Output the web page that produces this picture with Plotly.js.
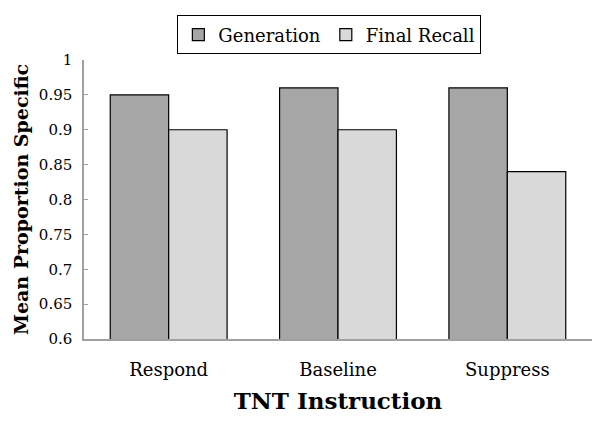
<!DOCTYPE html>
<html>
<head>
<meta charset="utf-8">
<script src="https://cdn.plot.ly/plotly-3.0.1.min.js"></script>
<style>
  body { margin: 0; background: #fff; }
  #graph { width: 600px; height: 423px; }
</style>
</head>
<body>
<div id="graph"></div>
<script>
// valores
var categorias = ["Respond", "Baseline", "Suppress"];
var generation = [0.95, 0.96, 0.96];
var finalRecall = [0.90, 0.90, 0.84];
var yTicks = [0.6, 0.65, 0.7, 0.75, 0.8, 0.85, 0.9, 0.95, 1];
var yTickText = ["0.6", "0.65", "0.7", "0.75", "0.8", "0.85", "0.9", "0.95", "1"];

var fonte = "DejaVu Serif";

var trace1 = {
    x: categorias,
    y: generation,
    name: "Generation",
    type: "bar",
    marker: { color: "#a6a6a6", line: { color: "#000", width: 1.2 } }
};

var trace2 = {
    x: categorias,
    y: finalRecall,
    name: "Final Recall",
    type: "bar",
    marker: { color: "#d9d9d9", line: { color: "#000", width: 1.2 } }
};

var layout = {
    width: 600,
    height: 423,
    margin: { l: 84, r: 8, t: 60, b: 84 },
    paper_bgcolor: "#fff",
    plot_bgcolor: "#fff",
    font: { family: fonte, color: "#000", size: 15 },
    barmode: "group",
    bargap: 0.31,
    bargroupgap: 0,
    showlegend: true,
    legend: {
        orientation: "h",
        x: 0.483,
        xanchor: "center",
        y: 1.16,
        yanchor: "top",
        bordercolor: "#000",
        borderwidth: 1,
        font: { size: 18, family: fonte },
        itemwidth: 30,
        tracegroupgap: 0
    },
    xaxis: {
        title: { text: "<b>TNT Instruction</b>", font: { size: 23, family: fonte }, standoff: 14 },
        tickfont: { size: 18, family: fonte },
        ticklabelstandoff: 14,
        showline: true,
        linecolor: "#a0a0a0",
        linewidth: 1.5,
        ticks: "",
        showgrid: false,
        zeroline: false
    },
    yaxis: {
        title: { text: "<b>Mean Proportion Specific</b>", font: { size: 19, family: fonte }, standoff: 5 },
        range: [0.6, 1],
        tickvals: yTicks,
        ticktext: yTickText,
        tickfont: { size: 15, family: fonte },
        ticklabelstandoff: 7,
        showline: true,
        linecolor: "#a0a0a0",
        linewidth: 1.5,
        ticks: "inside",
        ticklen: 4,
        tickcolor: "#a0a0a0",
        showgrid: false,
        zeroline: false
    }
};

Plotly.newPlot("graph", [trace1, trace2], layout, { displayModeBar: false });
</script>
</body>
</html>
